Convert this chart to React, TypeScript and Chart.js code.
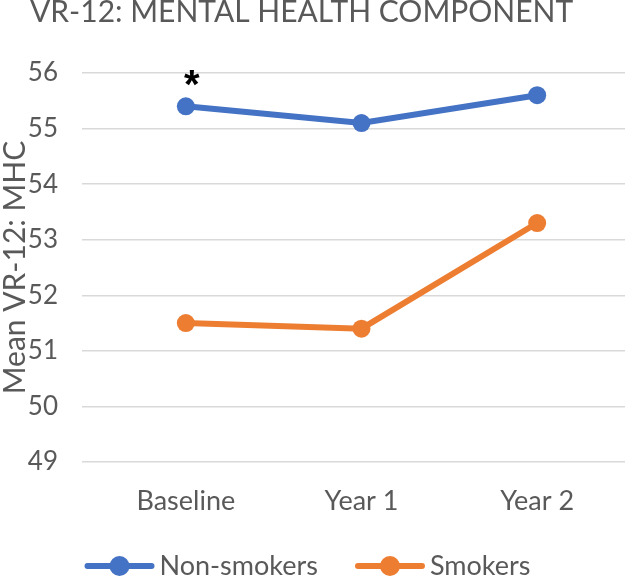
import React, { useEffect, useRef } from 'react';
import { Chart, registerables } from 'chart.js';

Chart.register(...registerables);

const categories = ['Baseline', 'Year 1', 'Year 2'];
const nonSmokers = [55.4, 55.1, 55.6];
const smokers = [51.5, 51.4, 53.3];
const nonSmokersMarks = ['*', '', ''];
const yTicks = [49, 50, 51, 52, 53, 54, 55, 56];
const seriesNames = ['Non-smokers', 'Smokers'];
const seriesColors = ['#4472C4', '#ED7D31'];
const chartTitle = 'VR-12: MENTAL HEALTH COMPONENT';
const yTitle = 'Mean VR-12: MHC';

const FONT = 'Lato, "Open Sans", sans-serif';
const TEXT = '#595959';

const overlay = {
  id: 'overlay',
  afterDraw(chart: any) {
    const ctx = chart.ctx;
    ctx.save();
    // title
    ctx.fillStyle = TEXT;
    ctx.font = `30px ${FONT}`;
    ctx.textBaseline = 'middle';
    ctx.textAlign = 'left';
    ctx.fillText(chartTitle, 30, 12);

    // significance marks
    const meta = chart.getDatasetMeta(0);
    ctx.fillStyle = '#000';
    ctx.font = 'bold 40px "Liberation Sans", Arial, sans-serif';
    ctx.textAlign = 'center';
    ctx.textBaseline = 'alphabetic';
    meta.data.forEach((pt: any, i: number) => {
      const m = nonSmokersMarks[i];
      if (m) ctx.fillText(m, pt.x + 6, pt.y - 8);
    });

    // legend
    ctx.font = `27px ${FONT}`;
    const lineW = 70;
    const gapText = 5;
    const gapItems = 37;
    const widths = seriesNames.map((n) => lineW + gapText + ctx.measureText(n).width);
    const total = widths.reduce((a, b) => a + b, 0) + gapItems * (widths.length - 1);
    let x = (chart.width - total) / 2 - 5;
    const y = 566;
    seriesNames.forEach((name, i) => {
      ctx.strokeStyle = seriesColors[i];
      ctx.lineWidth = 6;
      ctx.lineCap = 'round';
      ctx.beginPath();
      ctx.moveTo(x + 3, y);
      ctx.lineTo(x + lineW - 3, y);
      ctx.stroke();
      ctx.fillStyle = seriesColors[i];
      ctx.beginPath();
      ctx.arc(x + lineW / 2, y, 10, 0, Math.PI * 2);
      ctx.fill();
      ctx.fillStyle = TEXT;
      ctx.textAlign = 'left';
      ctx.textBaseline = 'middle';
      ctx.fillText(name, x + lineW + gapText, y);
      x += widths[i] + gapItems;
    });
    ctx.restore();
  },
};

export default function App() {
  const ref = useRef<HTMLCanvasElement>(null);
  useEffect(() => {
    document.body.style.margin = '0';
    const canvas = ref.current;
    if (!canvas) return;
    const chart = new Chart(canvas, {
      type: 'line',
      data: {
        labels: categories,
        datasets: [
          {
            label: seriesNames[0],
            data: nonSmokers,
            borderColor: seriesColors[0],
            backgroundColor: seriesColors[0],
            borderWidth: 6,
            pointRadius: 9,
            pointHoverRadius: 9,
            pointBorderWidth: 0,
            tension: 0,
          },
          {
            label: seriesNames[1],
            data: smokers,
            borderColor: seriesColors[1],
            backgroundColor: seriesColors[1],
            borderWidth: 6,
            pointRadius: 9,
            pointHoverRadius: 9,
            pointBorderWidth: 0,
            tension: 0,
          },
        ],
      },
      options: {
        responsive: false,
        animation: false,
        devicePixelRatio: 1,
        layout: { autoPadding: false, padding: { top: 73, right: 0, bottom: 0, left: 0 } },
        plugins: {
          legend: { display: false },
          title: { display: false },
          tooltip: { enabled: false },
        },
        scales: {
          x: {
            offset: true,
            grid: { display: false },
            border: { display: false },
            ticks: { color: TEXT, font: { family: FONT, size: 27 }, padding: 15 },
            afterFit: (s: any) => {
              s.height = 114;
              s.paddingLeft = 0;
              s.paddingRight = 0;
            },
          },
          y: {
            min: 49,
            max: 56,
            afterBuildTicks: (s: any) => {
              s.ticks = yTicks.map((v) => ({ value: v }));
            },
            ticks: { color: TEXT, font: { family: FONT, size: 26 }, padding: 24 },
            grid: { color: '#d9d9d9', lineWidth: 1.5, drawTicks: true, tickLength: 16, tickColor: '#d9d9d9' },
            border: { display: false },
            title: {
              display: true,
              text: yTitle,
              color: TEXT,
              font: { family: FONT, size: 30, lineHeight: 1 },
              padding: 0,
            },
            afterFit: (s: any) => {
              s.width = 98;
            },
          },
        },
      },
      plugins: [overlay],
    });
    return () => chart.destroy();
  }, []);
  return (
    <div style={{ width: 625, height: 576 }}>
      <canvas ref={ref} width={625} height={576} />
    </div>
  );
}
